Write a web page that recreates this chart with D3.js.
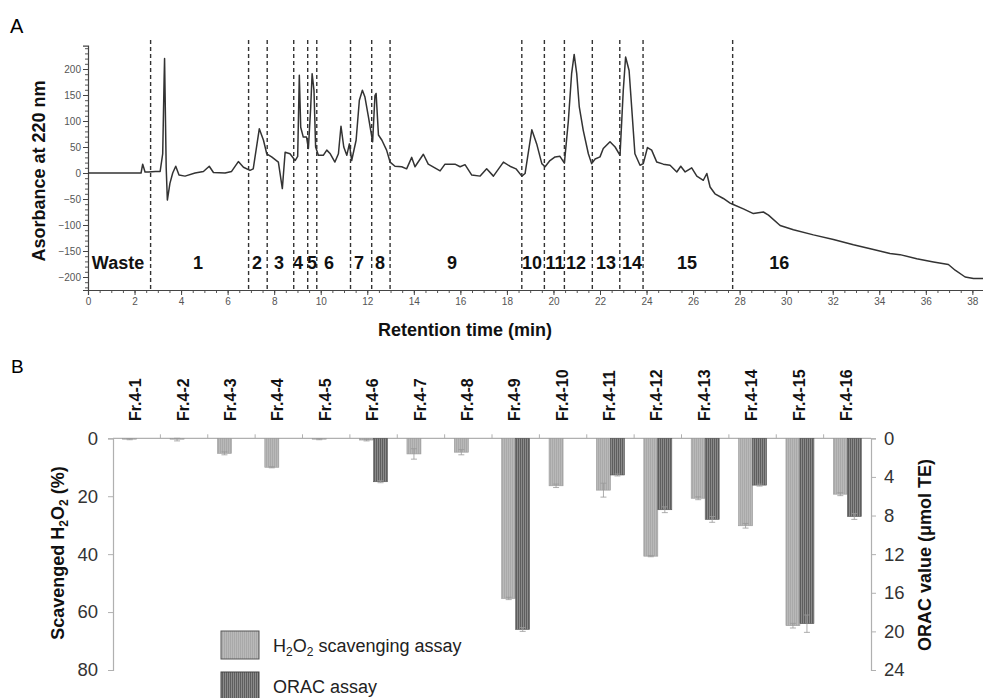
<!DOCTYPE html>
<html>
<head>
<meta charset="utf-8">
<script src="https://cdn.jsdelivr.net/npm/d3@7"></script>
<style>
  body { margin: 0; background: #fff; }
  svg { font-family: "Liberation Sans", Arial, sans-serif; }
</style>
</head>
<body>
<svg id="chart" width="983" height="698"></svg>
<script>
// ---------- panel A : chromatogram ----------
const rtMin = [0, 2.28, 2.35, 2.45, 2.6, 2.9, 3.1, 3.21, 3.27, 3.29, 3.31, 3.36, 3.41, 3.52, 3.64, 3.77, 3.91, 4.17, 4.6, 4.96,
  5.21, 5.39, 5.89, 6.17, 6.46, 6.68, 6.96, 7.1, 7.36, 7.54, 7.68, 7.89, 8.18, 8.35, 8.47, 8.68, 8.9, 9.01, 9.08, 9.14,
  9.25, 9.39, 9.47, 9.57, 9.63, 9.71, 9.78, 9.9, 10.11, 10.26, 10.41, 10.61, 10.76, 10.87, 10.99, 11.12, 11.23, 11.33, 11.52, 11.66,
  11.79, 11.9, 12.05, 12.23, 12.33, 12.38, 12.48, 12.63, 12.83, 12.98, 13.19, 13.48, 13.69, 13.91, 14.05, 14.41, 14.62, 15.13, 15.34, 15.77,
  15.99, 16.2, 16.49, 16.85, 17.13, 17.42, 17.85, 18.13, 18.39, 18.64, 18.78, 19.07, 19.28, 19.5, 19.64, 19.85, 20.07, 20.28, 20.47, 20.64,
  20.78, 20.89, 21.0, 21.11, 21.28, 21.5, 21.64, 21.79, 22.0, 22.14, 22.43, 22.65, 22.86, 23.0, 23.1, 23.25, 23.36, 23.5, 23.72, 23.86,
  24.04, 24.22, 24.44, 24.72, 25.01, 25.3, 25.47, 25.66, 25.94, 26.16, 26.44, 26.59, 26.73, 26.94, 27.3, 27.59, 27.7, 28.16, 28.59, 29.02,
  29.24, 29.74, 30.31, 31.17, 32.03, 32.89, 33.75, 34.46, 34.89, 35.61, 36.33, 36.97, 37.26, 37.69, 38.05, 38.46];
const absorb = [0, 0, 17, 2, 2, 3, 3, 37, 180, 220, 160, 10, -52, -20, 0, 13, -4, -6, 0, 3,
  13, 1, 0, 3, 22, 11, 5, 8, 85, 63, 37, 31, 21, -30, 40, 37, 24, 32, 188, 88,
  69, 69, 47, 127, 191, 159, 50, 34, 34, 44, 37, 21, 37, 90, 50, 34, 56, 24, 63, 140,
  159, 146, 108, 60, 149, 153, 73, 63, 44, 21, 13, 12, 8, 30, 12, 36, 17, 4, 17, 17,
  12, 16, -4, -6, 8, -6, 21, 13, 8, -6, -1, 83, 56, 18, 12, 24, 31, 32, 19, 100,
  191, 228, 191, 127, 82, 37, 18, 27, 31, 47, 60, 50, 34, 159, 223, 197, 127, 37, 15, 18,
  49, 44, 21, 17, 15, 2, 13, 2, 10, -6, -14, -1, -27, -40, -49, -58, -60, -69, -78, -75,
  -81, -101, -109, -119, -128, -138, -147, -155, -157, -165, -171, -176, -187, -200, -203, -203];

// fraction cut points (min) and labels with their positions (min)
const cutTimes = [2.69, 6.9, 7.7, 8.84, 9.44, 9.83, 11.28, 12.19, 12.98, 18.64, 19.61, 20.47, 21.67, 22.85, 23.85, 27.7];
const fracLabels = ["Waste", "1", "2", "3", "4", "5", "6", "7", "8", "9", "10", "11", "12", "13", "14", "15", "16"];
const fracLabelAt = [1.29, 4.73, 7.26, 8.21, 9.02, 9.63, 10.36, 11.65, 12.55, 15.64, 19.08, 20.07, 20.97, 22.26, 23.38, 25.74, 29.7];

// ---------- panel B : bars ----------
const fractions = ["Fr.4-1", "Fr.4-2", "Fr.4-3", "Fr.4-4", "Fr.4-5", "Fr.4-6", "Fr.4-7", "Fr.4-8",
  "Fr.4-9", "Fr.4-10", "Fr.4-11", "Fr.4-12", "Fr.4-13", "Fr.4-14", "Fr.4-15", "Fr.4-16"];
const h2o2 = [0.3, 0.3, 5.2, 10.0, 0.3, 0.6, 5.4, 4.8, 55.3, 16.4, 17.9, 40.7, 20.7, 30.2, 64.7, 19.3];
const h2o2Err = [0.2, 0.6, 0.5, 0.2, 0.2, 0.3, 1.8, 0.9, 0.4, 0.6, 2.4, 0.2, 0.5, 0.8, 0.8, 0.5];
const orac = [0, 0, 0, 0, 0, 4.5, 0, 0, 19.8, 0, 3.8, 7.4, 8.4, 4.85, 19.2, 8.1];
const oracErr = [0, 0, 0, 0, 0, 0.1, 0, 0, 0.2, 0, 0.1, 0.3, 0.3, 0.1, 0.9, 0.3];
const leftTicks = [0, 20, 40, 60, 80];
const rightTicks = [0, 4, 8, 12, 16, 20, 24];

const svg = d3.select("#chart");

// patterns for bar fills
const defs = svg.append("defs");
const p1 = defs.append("pattern").attr("id", "pH").attr("width", 2).attr("height", 4).attr("patternUnits", "userSpaceOnUse");
p1.append("rect").attr("width", 2).attr("height", 4).attr("fill", "#b9b9b9");
p1.append("rect").attr("width", 1).attr("height", 4).attr("fill", "#a9a9a9");
const p2 = defs.append("pattern").attr("id", "pO").attr("width", 2).attr("height", 4).attr("patternUnits", "userSpaceOnUse");
p2.append("rect").attr("width", 2).attr("height", 4).attr("fill", "#8a8a8a");
p2.append("rect").attr("width", 1).attr("height", 4).attr("fill", "#5e5e5e");

// ======================= PANEL A =======================
const xA = d3.scaleLinear().domain([0, 38.5]).range([88, 984]);
const yA = d3.scaleLinear().domain([-225, 245]).range([290, 45.6]);

svg.append("text").attr("x", 10).attr("y", 33).attr("font-size", 20).text("A");

// minor ticks
svg.append("g").attr("transform", "translate(88,0)")
  .call(d3.axisLeft(yA).tickValues(d3.range(-220, 241, 10)).tickSize(3).tickFormat(""))
  .call(g => g.select(".domain").remove())
  .selectAll("line").attr("stroke", "#555");
svg.append("g").attr("transform", "translate(0,290)")
  .call(d3.axisBottom(xA).tickValues(d3.range(0, 38.6, 0.5)).tickSize(3).tickFormat(""))
  .call(g => g.select(".domain").remove())
  .selectAll("line").attr("stroke", "#555");

// major axes
const yAxA = svg.append("g").attr("transform", "translate(88,0)")
  .call(d3.axisLeft(yA).tickValues(d3.range(-200, 201, 50)).tickSize(5).tickPadding(2));
const xAxA = svg.append("g").attr("transform", "translate(0,290)")
  .call(d3.axisBottom(xA).tickValues(d3.range(0, 39, 2)).tickSize(5).tickPadding(3));
[yAxA, xAxA].forEach(g => {
  g.select(".domain").attr("stroke", "#444").attr("stroke-width", 1.2);
  g.selectAll(".tick line").attr("stroke", "#444");
  g.selectAll(".tick text").attr("font-size", 10).attr("fill", "#555")
    .attr("font-family", "Liberation Sans, Arial, sans-serif");
});

// fraction cut lines
svg.append("g").selectAll("line").data(cutTimes).join("line")
  .attr("x1", d => xA(d)).attr("x2", d => xA(d))
  .attr("y1", 40).attr("y2", 290)
  .attr("stroke", "#333").attr("stroke-width", 1.4).attr("stroke-dasharray", "4,3");

// trace
const trace = rtMin.map((t, i) => [t, absorb[i]]);
svg.append("path").datum(trace)
  .attr("fill", "none").attr("stroke", "#333").attr("stroke-width", 1.5).attr("stroke-linejoin", "round")
  .attr("d", d3.line().x(d => xA(d[0])).y(d => yA(d[1])));

// fraction labels
svg.append("g").selectAll("text").data(fracLabels).join("text")
  .attr("x", (d, i) => xA(fracLabelAt[i])).attr("y", 269)
  .attr("text-anchor", "middle").attr("font-weight", "bold").attr("font-size", 18).attr("fill", "#111")
  .text(d => d);

// axis titles
svg.append("text").attr("transform", "translate(45,171) rotate(-90)")
  .attr("text-anchor", "middle").attr("font-weight", "bold").attr("font-size", 18).attr("fill", "#111")
  .text("Asorbance at 220 nm");
svg.append("text").attr("x", 465).attr("y", 336)
  .attr("text-anchor", "middle").attr("font-weight", "bold").attr("font-size", 18).attr("fill", "#111")
  .text("Retention time (min)");

// ======================= PANEL B =======================
svg.append("text").attr("x", 11).attr("y", 373).attr("font-size", 19).text("B");

const xB = d3.scaleBand().domain(fractions).range([113, 871]).padding(0);
const yL = d3.scaleLinear().domain([0, 80]).range([438.3, 670]);
const yR = d3.scaleLinear().domain([0, 24]).range([438.3, 670]);
const barW = 14;

// top baseline with group ticks
svg.append("line").attr("x1", 113).attr("x2", 871).attr("y1", yL(0)).attr("y2", yL(0))
  .attr("stroke", "#b0b0b0").attr("stroke-width", 1.2);
svg.append("g").selectAll("line").data(fractions.slice(1)).join("line")
  .attr("x1", d => xB(d)).attr("x2", d => xB(d))
  .attr("y1", yL(0) - 4).attr("y2", yL(0))
  .attr("stroke", "#b0b0b0");

// left axis
const axL = svg.append("g").attr("transform", "translate(113,0)")
  .call(d3.axisLeft(yL).tickValues(leftTicks).tickSize(5).tickPadding(10));
// right axis
const axR = svg.append("g").attr("transform", "translate(871,0)")
  .call(d3.axisRight(yR).tickValues(rightTicks).tickSize(5).tickPadding(8));
[axL, axR].forEach(g => {
  g.select(".domain").attr("stroke", "#b0b0b0").attr("stroke-width", 1.2);
  g.selectAll(".tick line").attr("stroke", "#b0b0b0");
  g.selectAll(".tick text").attr("font-size", 18.5).attr("fill", "#333")
    .attr("font-family", "Liberation Sans, Arial, sans-serif");
});

// bars
const gH = svg.append("g");
gH.selectAll("rect").data(h2o2).join("rect")
  .attr("x", (d, i) => xB(fractions[i]) + xB.bandwidth() / 2 - barW)
  .attr("y", yL(0)).attr("width", barW)
  .attr("height", d => yL(d) - yL(0))
  .attr("fill", "url(#pH)").attr("stroke", "#9a9a9a").attr("stroke-width", 0.6);
const gO = svg.append("g");
gO.selectAll("rect").data(orac).join("rect")
  .attr("x", (d, i) => xB(fractions[i]) + xB.bandwidth() / 2)
  .attr("y", yR(0)).attr("width", barW)
  .attr("height", d => yR(d) - yR(0))
  .attr("fill", "url(#pO)").attr("stroke", "#555").attr("stroke-width", 0.6)
  .attr("display", d => d > 0 ? null : "none");

// error bars
function errBars(vals, errs, scale, offset) {
  const g = svg.append("g").attr("stroke", "#999").attr("stroke-width", 0.8);
  vals.forEach((v, i) => {
    if (v <= 0) return;
    const cx = xB(fractions[i]) + xB.bandwidth() / 2 + offset;
    const y0 = scale(Math.max(0, v - errs[i])), y1 = scale(v + errs[i]);
    g.append("line").attr("x1", cx).attr("x2", cx).attr("y1", y0).attr("y2", y1);
    g.append("line").attr("x1", cx - 3).attr("x2", cx + 3).attr("y1", y1).attr("y2", y1);
    g.append("line").attr("x1", cx - 3).attr("x2", cx + 3).attr("y1", y0).attr("y2", y0);
  });
}
errBars(h2o2, h2o2Err, yL, -barW / 2);
errBars(orac, oracErr, yR, barW / 2);

// category labels
svg.append("g").selectAll("text").data(fractions).join("text")
  .attr("transform", d => "translate(" + (xB(d) + xB.bandwidth() / 2 - 1) + ",421) rotate(-90)")
  .attr("dy", "0.35em").attr("font-weight", "bold").attr("font-size", 16).attr("fill", "#111")
  .text(d => d);

// axis titles
const tL = svg.append("text").attr("transform", "translate(64,553) rotate(-90)")
  .attr("text-anchor", "middle").attr("font-weight", "bold").attr("font-size", 18).attr("fill", "#111");
tL.append("tspan").text("Scavenged H");
tL.append("tspan").attr("font-size", 12).attr("dy", 4).text("2");
tL.append("tspan").attr("dy", -4).text("O");
tL.append("tspan").attr("font-size", 12).attr("dy", 4).text("2");
tL.append("tspan").attr("dy", -4).text(" (%)");

svg.append("text").attr("transform", "translate(931,555) rotate(-90)")
  .attr("text-anchor", "middle").attr("font-weight", "bold").attr("font-size", 18).attr("fill", "#111")
  .text("ORAC value (\u03bcmol TE)");

// legend
const legend = svg.append("g");
legend.append("rect").attr("x", 221).attr("y", 631).attr("width", 38).attr("height", 28)
  .attr("fill", "url(#pH)").attr("stroke", "#555").attr("stroke-width", 1);
legend.append("rect").attr("x", 221).attr("y", 672).attr("width", 38).attr("height", 28)
  .attr("fill", "url(#pO)").attr("stroke", "#444").attr("stroke-width", 1);
const lt = legend.append("text").attr("x", 273).attr("y", 652).attr("font-size", 18).attr("fill", "#222");
lt.append("tspan").text("H");
lt.append("tspan").attr("font-size", 12).attr("dy", 4).text("2");
lt.append("tspan").attr("dy", -4).text("O");
lt.append("tspan").attr("font-size", 12).attr("dy", 4).text("2");
lt.append("tspan").attr("dy", -4).text(" scavenging assay");
legend.append("text").attr("x", 273).attr("y", 693).attr("font-size", 18).attr("fill", "#222").text("ORAC assay");
</script>
</body>
</html>
